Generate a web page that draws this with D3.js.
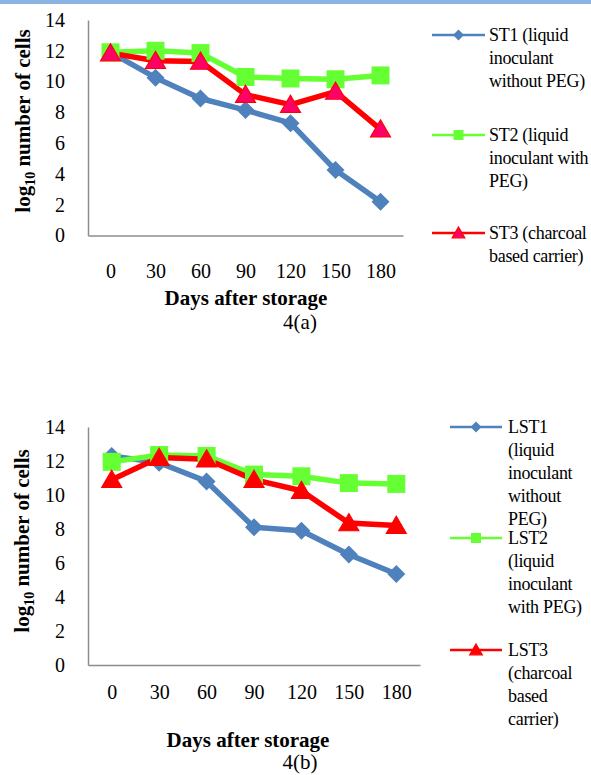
<!DOCTYPE html>
<html><head><meta charset="utf-8">
<script src="https://cdn.jsdelivr.net/npm/d3@7"></script>
<style>
html,body{margin:0;padding:0;background:#fff;}
</style></head>
<body>
<svg id="c" width="591" height="775"></svg>
<script>
const days = ["0","30","60","90","120","150","180"];
const yTicks = [0,2,4,6,8,10,12,14];

const st1 = [11.9,10.25,8.9,8.15,7.3,4.25,2.2];
const st2 = [11.9,12.0,11.85,10.3,10.2,10.15,10.4];
const st3 = [11.85,11.35,11.3,9.15,8.5,9.35,6.9];

const lst1 = [12.3,11.9,10.8,8.1,7.9,6.5,5.35];
const lst2 = [11.95,12.35,12.3,11.2,11.1,10.7,10.65];
const lst3 = [10.9,12.2,12.1,10.9,10.25,8.35,8.2];

const legendA = [["ST1 (liquid","inoculant","without PEG)"],["ST2 (liquid","inoculant with","PEG)"],["ST3 (charcoal","based carrier)"]];
const legendB = [["LST1","(liquid","inoculant","without","PEG)"],["LST2","(liquid","inoculant","with PEG)"],["LST3","(charcoal","based","carrier)"]];

const BLUE="#4F81BD", GREEN="#66FF33", RED="#FF0000";
const FONT="Liberation Serif";
const svg = d3.select("#c");

svg.append("rect").attr("x",0).attr("y",0).attr("width",591).attr("height",4).attr("fill","#8DB3E2");

function marker(g, type, x, y, s, fillTri){
  if(type==="diamond"){
    g.append("path").attr("d",`M${x},${y-s}L${x+s},${y}L${x},${y+s}L${x-s},${y}Z`).attr("fill",BLUE);
  } else if(type==="square"){
    g.append("rect").attr("x",x-s).attr("y",y-s).attr("width",2*s).attr("height",2*s).attr("fill",GREEN);
  } else {
    const h=s*1.8, w=s*1.05;
    g.append("path").attr("d",`M${x},${y-h*0.55}L${x+w},${y+h*0.45}L${x-w},${y+h*0.45}Z`)
      .attr("fill",fillTri).attr("stroke",RED).attr("stroke-width",1.2).attr("stroke-linejoin","miter");
  }
}

function txt(sel){ return sel.style("font-family",FONT); }

function chart(opt){
  const g = svg.append("g");
  const x = d3.scalePoint().domain(days).range([opt.x0,opt.x1]).padding(0.5);
  const y = d3.scaleLinear().domain([0,14]).range([opt.yb,opt.yt]);

  const ya = g.append("g").attr("transform",`translate(${opt.x0},0)`)
    .call(d3.axisLeft(y).tickValues(yTicks).tickSize(0).tickPadding(23).tickFormat(d3.format("d")));
  ya.select(".domain").attr("stroke","#8C8C8C").attr("stroke-width",1.5);
  ya.selectAll("text").style("font-family",FONT).style("font-size","20px").attr("fill","#000");

  const xa = g.append("g").attr("transform",`translate(0,${opt.yb})`)
    .call(d3.axisBottom(x).tickSize(0).tickPadding(opt.xpad));
  xa.select(".domain").attr("stroke","#8C8C8C").attr("stroke-width",1.5);
  xa.selectAll("text").style("font-family",FONT).style("font-size","20px").attr("fill","#000");

  const line = d3.line().x((d,i)=>x(days[i])).y(d=>y(d));
  const series = [
    {v:opt.s1,c:BLUE,t:"diamond"},
    {v:opt.s2,c:GREEN,t:"square"},
    {v:opt.s3,c:RED,t:"tri"}
  ];
  series.forEach(s=>{
    g.append("path").datum(s.v).attr("d",line).attr("fill","none").attr("stroke",s.c)
      .attr("stroke-width",5.5).attr("stroke-linejoin","round");
  });
  series.forEach(s=>{
    s.v.forEach((d,i)=>{
      const sz = s.t==="diamond"?9:(s.t==="square"?9:9.5);
      marker(g,s.t,x(days[i]),y(d),sz,opt.triFill);
    });
  });

  const yt = txt(g.append("text")).attr("transform",`translate(${opt.ytx},${opt.ytc}) rotate(-90)`)
    .attr("text-anchor","middle").style("font-size","21px").style("font-weight","bold");
  yt.append("tspan").text("log");
  yt.append("tspan").style("font-size","14px").attr("dy",5).text("10");
  yt.append("tspan").attr("dy",-5).text(" number of cells");

  txt(g.append("text")).attr("x",opt.xtc).attr("y",opt.xty).attr("text-anchor","middle")
    .style("font-size","21px").style("font-weight","bold").text("Days after storage");
  txt(g.append("text")).attr("x",300).attr("y",opt.caty).attr("text-anchor","middle")
    .style("font-size","21px").text(opt.cap);

  const types=["diamond","square","tri"], cols=[BLUE,GREEN,RED];
  opt.leg.forEach((lines,k)=>{
    const ly = opt.legY[k];
    g.append("line").attr("x1",opt.lx0).attr("x2",opt.lx1).attr("y1",ly).attr("y2",ly)
      .attr("stroke",cols[k]).attr("stroke-width",2.5);
    const mx=(opt.lx0+opt.lx1)/2;
    marker(g,types[k],mx,ly,types[k]==="tri"?6:(types[k]==="diamond"?5.5:5),types[k]==="tri"?opt.triFillLeg:null);
    const t = txt(g.append("text")).attr("x",opt.ltx).attr("y",ly+6).style("font-size","18px")
      .style("letter-spacing","-0.3px");
    lines.forEach((ln,j)=>{
      t.append("tspan").attr("x",opt.ltx).attr("dy",j===0?0:23).text(ln);
    });
  });
}

chart({x0:88,x1:403,yt:20,yb:235.5,xpad:28,s1:st1,s2:st2,s3:st3,triFill:"#FF0066",triFillLeg:"#FF0066",
  ytx:30,ytc:121,xtc:246,xty:305,caty:329,cap:"4(a)",
  leg:legendA,legY:[35,135,233],lx0:432,lx1:485,ltx:489});

chart({x0:88,x1:420,yt:427,yb:665,xpad:20,s1:lst1,s2:lst2,s3:lst3,triFill:RED,triFillLeg:RED,
  ytx:29,ytc:541,xtc:248,xty:747,caty:769,cap:"4(b)",
  leg:legendB,legY:[427,538,650],lx0:450,lx1:502,ltx:508});
</script>
</body></html>
